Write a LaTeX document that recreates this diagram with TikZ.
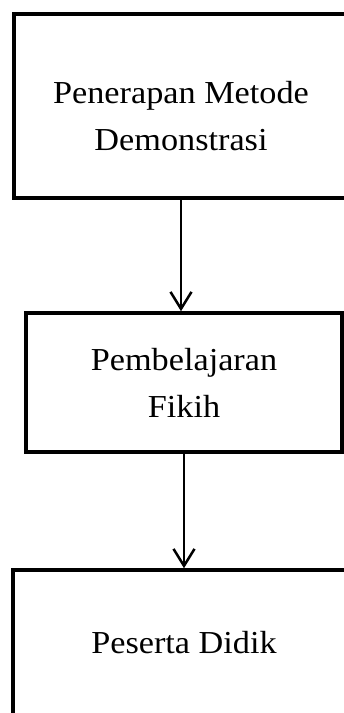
\documentclass[tikz,border=0pt]{standalone}
\usepackage{fontspec}
\setmainfont{Liberation Serif}[FakeStretch=1.07]
\usetikzlibrary{arrows.meta}
\begin{document}
\begin{tikzpicture}[x=1pt, y=-1pt, font=\fontsize{32}{47}\selectfont, line join=miter,
		>={Straight Barb[length=17pt,width=21pt,line width=2.5pt]},
		box/.style={draw, line width=3.5pt, rectangle, align=center, inner sep=0pt},
		txt/.style={align=center, inner sep=0pt}]
			\useasboundingbox (0,0) rectangle (344,713);
			\clip (0,0) rectangle (344,713);
			% kotak-kotak
			\node[box, minimum width=334pt, minimum height=184pt] (metode) at (181,106) {};
			\node[txt] (metodetxt) at (181,116) {Penerapan Metode\\Demonstrasi};
			\node[box, minimum width=316pt, minimum height=139pt] (fikih) at (184,382.5) {Pembelajaran\\Fikih};
			\node[box, minimum width=342pt, minimum height=146pt] (peserta) at (184,643) {Peserta Didik};
			% panah
			\draw[->, line width=2.5pt] (metode.south) -- (metode.south |- fikih.north);
			\draw[->, line width=2.5pt] (fikih.south) -- (fikih.south |- peserta.north);
\end{tikzpicture}
\end{document}
